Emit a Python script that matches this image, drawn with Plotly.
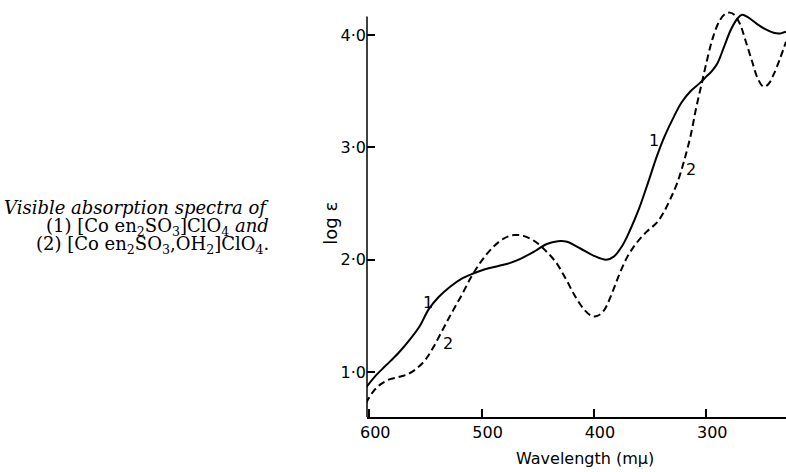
import plotly.graph_objects as go

# Curve 1: [Co en2SO3]ClO4 (solid)
wl_1 = [603, 595, 585, 574, 563, 555, 547, 538, 528, 518, 508, 497, 485, 475, 465, 452,
        442, 432, 424, 412, 400, 389, 382, 375, 368, 360, 352, 344, 337, 329, 322, 314,
        306, 300, 295, 290, 284, 278, 272, 268, 263, 255, 247, 240, 234, 229]
log_eps_1 = [0.86, 0.96, 1.06, 1.17, 1.30, 1.41, 1.56, 1.67, 1.76, 1.83, 1.875, 1.915,
             1.945, 1.97, 2.01, 2.08, 2.14, 2.165, 2.16, 2.10, 2.035, 2.0, 2.03, 2.12,
             2.26, 2.45, 2.68, 2.92, 3.10, 3.27, 3.40, 3.50, 3.57, 3.63, 3.68, 3.75,
             3.90, 4.05, 4.15, 4.18, 4.16, 4.10, 4.05, 4.02, 4.015, 4.03]

# Curve 2: [Co en2SO3,OH2]ClO4 (dashed)
wl_2 = [603, 597, 590, 582, 574, 566, 558, 550, 543, 535, 527, 518, 509, 500, 490, 480,
        471, 462, 452, 443, 434, 425, 417, 409, 402, 397, 391, 384, 377, 370, 362, 353,
        344, 338, 332, 326, 320, 314, 309, 304, 299, 294, 288, 283, 279, 275, 270, 265,
        259, 254, 249, 245, 240, 234, 229]
log_eps_2 = [0.72, 0.82, 0.89, 0.935, 0.955, 0.98, 1.03, 1.11, 1.22, 1.37, 1.52, 1.68,
             1.85, 1.99, 2.11, 2.19, 2.22, 2.21, 2.16, 2.08, 1.98, 1.83, 1.68, 1.56,
             1.50, 1.50, 1.55, 1.70, 1.88, 2.03, 2.15, 2.25, 2.33, 2.42, 2.54, 2.68,
             2.87, 3.10, 3.35, 3.57, 3.79, 3.98, 4.13, 4.19, 4.20, 4.18, 4.10, 3.95,
             3.76, 3.61, 3.54, 3.56, 3.65, 3.80, 3.94]

x_ticks = [600, 500, 400, 300]
x_tick_labels = ["600", "500", "400", "300"]
y_ticks = [1.0, 2.0, 3.0, 4.0]
y_tick_labels = ["1·0", "2·0", "3·0", "4·0"]

# curve number labels (wavelength, log eps, text)
label_x = [548, 530, 346.5, 313.5]
label_y = [1.62, 1.255, 3.06, 2.80]
label_text = ["1", "2", "1", "2"]

caption_lines = [
    "<i>Visible absorption spectra of</i>",
    "(1) [Co en<sub>2</sub>SO<sub>3</sub>]ClO<sub>4</sub> <i>and</i>",
    "(2) [Co en<sub>2</sub>SO<sub>3</sub>,OH<sub>2</sub>]ClO<sub>4</sub>.",
]

SANS = "DejaVu Sans"
SERIF = "DejaVu Serif"

fig = go.Figure()
fig.add_trace(go.Scatter(x=wl_1, y=log_eps_1, mode="lines",
                         line=dict(color="black", width=2, shape="spline", smoothing=1.0),
                         showlegend=False, hoverinfo="skip"))
fig.add_trace(go.Scatter(x=wl_2, y=log_eps_2, mode="lines",
                         line=dict(color="black", width=2, dash="7px,4px",
                                   shape="spline", smoothing=1.0),
                         showlegend=False, hoverinfo="skip"))

for lx, ly, lt in zip(label_x, label_y, label_text):
    fig.add_annotation(x=lx, y=ly, text=lt, showarrow=False,
                       font=dict(family=SANS, size=16, color="black"))

cap_y = [0.512, 0.463, 0.4195]
for txt, yy in zip(caption_lines, cap_y):
    fig.add_annotation(xref="paper", yref="paper", x=-0.229, y=yy, text=txt,
                       showarrow=False, xanchor="right", yanchor="middle", align="right",
                       font=dict(family=SERIF, size=18, color="black"))

# y axis title
fig.add_annotation(xref="paper", yref="paper", x=-0.119, y=0.473, text="log ε",
                   textangle=-90, showarrow=False,
                   font=dict(family=SANS, size=18, color="black"))
# x axis title
fig.add_annotation(xref="paper", yref="paper", x=0.52, y=-0.1, text="Wavelength (mμ)",
                   showarrow=False, yanchor="middle",
                   font=dict(family=SANS, size=16, color="black"))

# left spine (stops short of top)
fig.add_shape(type="line", xref="paper", yref="y", x0=0, x1=0, y0=0.6, y1=4.165,
              line=dict(color="black", width=1.5))

fig.update_xaxes(range=[602, 229], tickvals=x_ticks, ticktext=x_tick_labels,
                 ticks="inside", ticklen=8, tickwidth=1.5, tickcolor="black",
                 showline=True, linecolor="black", linewidth=1.5,
                 showgrid=False, zeroline=False, ticklabelshift=-6,
                 tickfont=dict(family=SANS, size=16, color="black"))
fig.update_yaxes(range=[0.6, 4.25], tickvals=y_ticks, ticktext=y_tick_labels,
                 ticks="inside", ticklen=8, tickwidth=1.5, tickcolor="black",
                 showline=False, showgrid=False, zeroline=False,
                 tickfont=dict(family=SANS, size=16, color="black"))

fig.update_layout(width=786, height=472, margin=dict(l=367, r=0, t=7, b=55),
                  plot_bgcolor="white", paper_bgcolor="white")

fig.write_html("out.html", config={"displayModeBar": False},
               post_script="document.body.style.margin='0';"
                           "document.body.style.overflow='hidden';")
